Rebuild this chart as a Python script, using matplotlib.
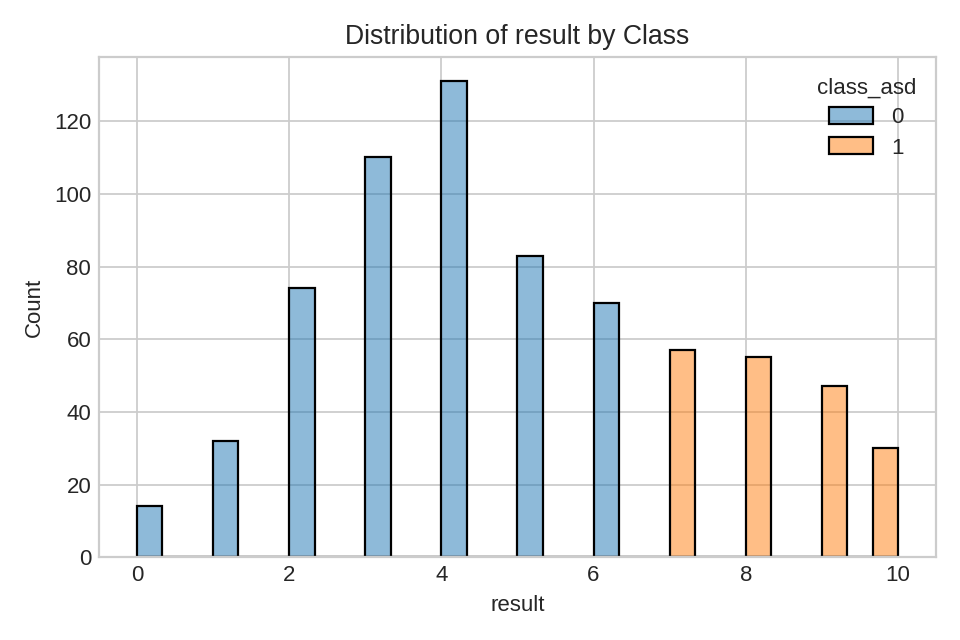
import numpy as np
import matplotlib
matplotlib.use("Agg")
import matplotlib.pyplot as plt
from matplotlib.patches import Patch

results_0 = [0, 1, 2, 3, 4, 5, 6]
counts_0 = [14, 32, 74, 110, 131, 83, 70]
results_1 = [7, 8, 9, 10]
counts_1 = [57, 55, 47, 30]

plt.style.use("seaborn-v0_8-whitegrid")
plt.rcParams['font.family'] = ['Liberation Sans', 'DejaVu Sans']

fig, ax = plt.subplots(figsize=(6, 4), dpi=160)
edges = np.linspace(0, 10, 31)
c0 = (0.1216, 0.4667, 0.7059)
c1 = (1.0, 0.498, 0.0549)
ax.hist(results_0, bins=edges, weights=counts_0, color=c0, alpha=0.5, edgecolor='none')
ax.hist(results_1, bins=edges, weights=counts_1, color=c1, alpha=0.5, edgecolor='none')
ax.hist(results_1, bins=edges, weights=counts_1, histtype='bar', fill=False, edgecolor='black', linewidth=1)
ax.hist(results_0, bins=edges, weights=counts_0, histtype='bar', fill=False, edgecolor='black', linewidth=1)

ax.set_xlim(-0.5, 10.5)
ax.set_ylim(0, max(counts_0 + counts_1) * 1.05)
ax.set_title("Distribution of result by Class", fontsize=12)
ax.set_xlabel("result", fontsize=10)
ax.set_ylabel("Count", fontsize=10)
ax.tick_params(labelsize=10)
for s in ax.spines.values():
    s.set_visible(True)
    s.set_color('#cccccc')
ax.set_axisbelow(True)

handles = [Patch(facecolor=(*c0, 0.5), edgecolor='black'),
           Patch(facecolor=(*c1, 0.5), edgecolor='black')]
leg = ax.legend(handles, ['0', '1'], title='class_asd', loc='upper right', frameon=False,
                fontsize=10, title_fontsize=10, labelspacing=0.4, handleheight=0.8)

fig.tight_layout()
fig.savefig("out.png", dpi=160)
